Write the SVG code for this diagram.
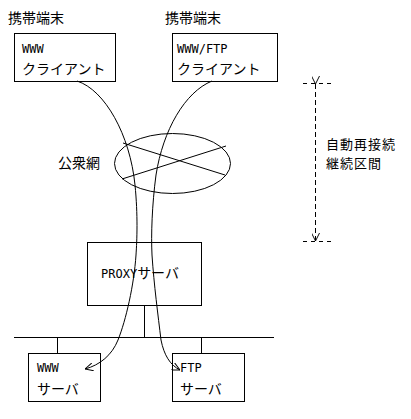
<svg xmlns="http://www.w3.org/2000/svg" width="411" height="419" viewBox="0 0 411 419">
<style>
.box{fill:#fff;stroke:#000;stroke-width:1}
.ln{fill:none;stroke:#000;stroke-width:1}
.dash{fill:none;stroke:#000;stroke-width:1;stroke-dasharray:5,3}
.jp{font-family:"Noto Sans CJK JP","Noto Sans CJK SC",sans-serif;font-size:14px;fill:#000}
.jps{font-family:"Noto Sans CJK JP","Noto Sans CJK SC",sans-serif;font-size:13px;letter-spacing:1px;fill:#000}
.en{font-family:"DejaVu Sans Mono","Liberation Mono",monospace;font-size:12px;fill:#000}
</style>
<defs>
<marker id="arr" viewBox="0 0 10 10" refX="10" refY="5" markerWidth="8" markerHeight="8" markerUnits="userSpaceOnUse" orient="auto">
<path d="M0,0 L10,5 L0,10" fill="none" stroke="#000" stroke-width="1.2"/>
</marker>
</defs>
<rect width="411" height="419" fill="#fff"/>
<g id="label-mobile1"><text class="jp" x="8" y="23">携帯端末</text></g>
<g id="label-mobile2"><text class="jp" x="165" y="23">携帯端末</text></g>
<g id="www-client">
<rect class="box" x="14.5" y="33.5" width="101" height="48"/>
<text class="en" x="22" y="53">WWW</text>
<text class="jp" x="22" y="74">クライアント</text>
</g>
<g id="ftp-client">
<rect class="box" x="172.5" y="33.5" width="105" height="48"/>
<text class="en" x="177" y="53">WWW/FTP</text>
<text class="jp" x="177" y="74">クライアント</text>
</g>
<g id="public-network">
<ellipse class="ln" cx="172.5" cy="163.5" rx="58" ry="30"/>
<line class="ln" x1="123" y1="143" x2="225" y2="175"/>
<line class="ln" x1="226" y1="146" x2="122" y2="179"/>
<text class="jp" x="58" y="168">公衆網</text>
</g>
<g id="proxy">
<rect class="box" x="87.5" y="242.5" width="114" height="63"/>
<text x="101" y="278"><tspan class="en">PROXY</tspan><tspan class="jp">サーバ</tspan></text>
</g>
<g id="www-server">
<rect class="box" x="28.5" y="353.5" width="72" height="48"/>
<text class="en" x="37" y="372">WWW</text>
<text class="jp" x="37" y="394">サーバ</text>
</g>
<g id="ftp-server">
<rect class="box" x="172.5" y="353.5" width="72" height="48"/>
<text class="en" x="180" y="372">FTP</text>
<text class="jp" x="180" y="394">サーバ</text>
</g>
<g id="reconnect-label">
<text class="jps" x="326" y="149">自動再接続</text>
<text class="jps" x="326" y="168">継続区間</text>
</g>
<g id="connectors">
<line class="ln" x1="14" y1="337.5" x2="274" y2="337.5"/>
<line class="ln" x1="144.5" y1="305" x2="144.5" y2="337"/>
<line class="ln" x1="57.5" y1="337" x2="57.5" y2="353"/>
<line class="ln" x1="201.5" y1="337" x2="201.5" y2="353"/>
<path class="ln" d="M77,81 C105,90 130,135 135,185 C138,215 137,240 136,255 C134,285 126,320 118,340 C112,355 100,365 85,369" marker-end="url(#arr)"/>
<path class="ln" d="M212,81 C185,92 163,130 156,175 C152,205 151,235 152,255 C154,285 158,315 161,340 C164,355 170,365 180,370" marker-end="url(#arr)"/>
<line class="dash" x1="315.5" y1="84" x2="315.5" y2="241" marker-start="url(#arr)" marker-end="url(#arr)"/>
<line class="dash" x1="303" y1="83.5" x2="332" y2="83.5" style="stroke-dasharray:4,4"/>
<line class="dash" x1="303" y1="241.5" x2="332" y2="241.5" style="stroke-dasharray:4,4"/>
</g>
</svg>
